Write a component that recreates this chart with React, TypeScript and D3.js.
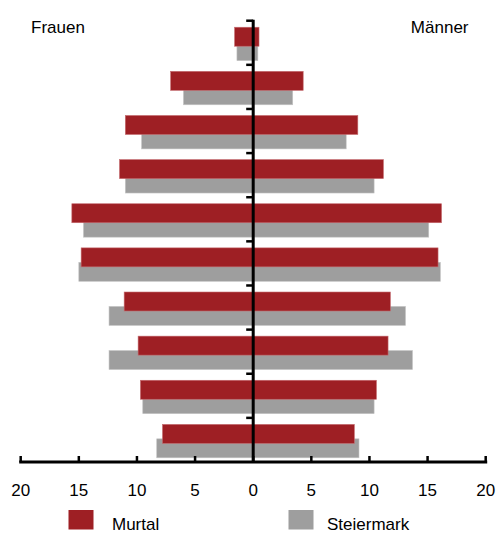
import * as React from 'react'
import * as d3 from 'd3'

const WIDTH = 499
const HEIGHT = 534

// age groups, top of the pyramid first
const ageGroups = ['90+', '80-89', '70-79', '60-69', '50-59', '40-49', '30-39', '20-29', '10-19', '0-9']
const murtalFrauen = [1.6, 7.1, 11.0, 11.5, 15.6, 14.8, 11.1, 9.9, 9.7, 7.8]
const murtalMaenner = [0.5, 4.3, 9.0, 11.2, 16.2, 15.9, 11.8, 11.6, 10.6, 8.7]
const steiermarkFrauen = [1.4, 6.0, 9.6, 11.0, 14.6, 15.0, 12.4, 12.4, 9.5, 8.3]
const steiermarkMaenner = [0.4, 3.4, 8.0, 10.4, 15.1, 16.1, 13.1, 13.7, 10.4, 9.1]
const xTicks = [-20, -15, -10, -5, 0, 5, 10, 15, 20]
const seriesNames = ['Murtal', 'Steiermark']

const RED = '#9e1f24'
const GRAY = '#9e9e9e'
const FONT = '"Liberation Sans", Arial, sans-serif'

const X_LEFT = 20.7
const X_RIGHT = 485.7
const Y_TOP = 20.7
const Y_BOTTOM = 462

export default function App() {
  const x = d3.scaleLinear().domain([-20, 20]).range([X_LEFT, X_RIGHT])
  const y = d3.scaleBand<string>().domain(ageGroups).range([Y_TOP, Y_BOTTOM])
  const bw = y.bandwidth()
  // bars overlap a little inside each band (red drawn on top)
  const barH = bw * 0.43
  const redOff = bw * 0.148
  const grayOff = bw * 0.475

  const rows = ageGroups.map((g, i) => ({
    g,
    mf: murtalFrauen[i],
    mm: murtalMaenner[i],
    sf: steiermarkFrauen[i],
    sm: steiermarkMaenner[i]
  }))

  const bandEdges = ageGroups.map(g => y(g) as number)

  return (
    <svg
      width={WIDTH}
      height={HEIGHT}
      style={{ position: 'absolute', left: 0, top: 0, display: 'block' }}
      fontFamily={FONT}
    >
      <rect width={WIDTH} height={HEIGHT} fill="#fff" />
      {/* Steiermark behind */}
      {rows.map(r => (
        <rect
          key={'s' + r.g}
          x={x(-r.sf)}
          y={(y(r.g) as number) + grayOff}
          width={x(r.sm) - x(-r.sf)}
          height={barH}
          fill={GRAY}
          stroke="#c4c4c4"
          strokeWidth={0.6}
        />
      ))}
      {rows.map(r => (
        <rect
          key={'m' + r.g}
          x={x(-r.mf)}
          y={(y(r.g) as number) + redOff}
          width={x(r.mm) - x(-r.mf)}
          height={barH}
          fill={RED}
          stroke="#c46a6e"
          strokeWidth={0.6}
        />
      ))}
      {/* vertical axis */}
      <line x1={x(0)} x2={x(0)} y1={Y_TOP - 1} y2={Y_BOTTOM} stroke="#000" strokeWidth={3} />
      {bandEdges.map((e, i) => (
        <line key={'yt' + i} x1={x(0) - 7} x2={x(0)} y1={e} y2={e} stroke="#000" strokeWidth={2.5} />
      ))}
      {/* horizontal axis */}
      <line x1={X_LEFT - 1.5} x2={X_RIGHT + 1.5} y1={Y_BOTTOM} y2={Y_BOTTOM} stroke="#000" strokeWidth={3} />
      {xTicks.map(t => (
        <g key={'xt' + t}>
          <line x1={x(t)} x2={x(t)} y1={Y_BOTTOM - 6} y2={Y_BOTTOM} stroke="#000" strokeWidth={2.5} />
          <text x={x(t)} y={496} textAnchor="middle" fontSize={17} fill="#000">
            {Math.abs(t)}
          </text>
        </g>
      ))}
      <text x={31} y={33} fontSize={17} fill="#000">Frauen</text>
      <text x={468.5} y={33} fontSize={17} fill="#000" textAnchor="end">Männer</text>
      {/* legend */}
      {seriesNames.map((s, i) => (
        <g key={s}>
          <rect x={i === 0 ? 68.5 : 288.5} y={510} width={25} height={19.5} fill={i === 0 ? RED : GRAY} />
          <text x={i === 0 ? 112 : 327} y={530} fontSize={17} fill="#000">{s}</text>
        </g>
      ))}
    </svg>
  )
}
